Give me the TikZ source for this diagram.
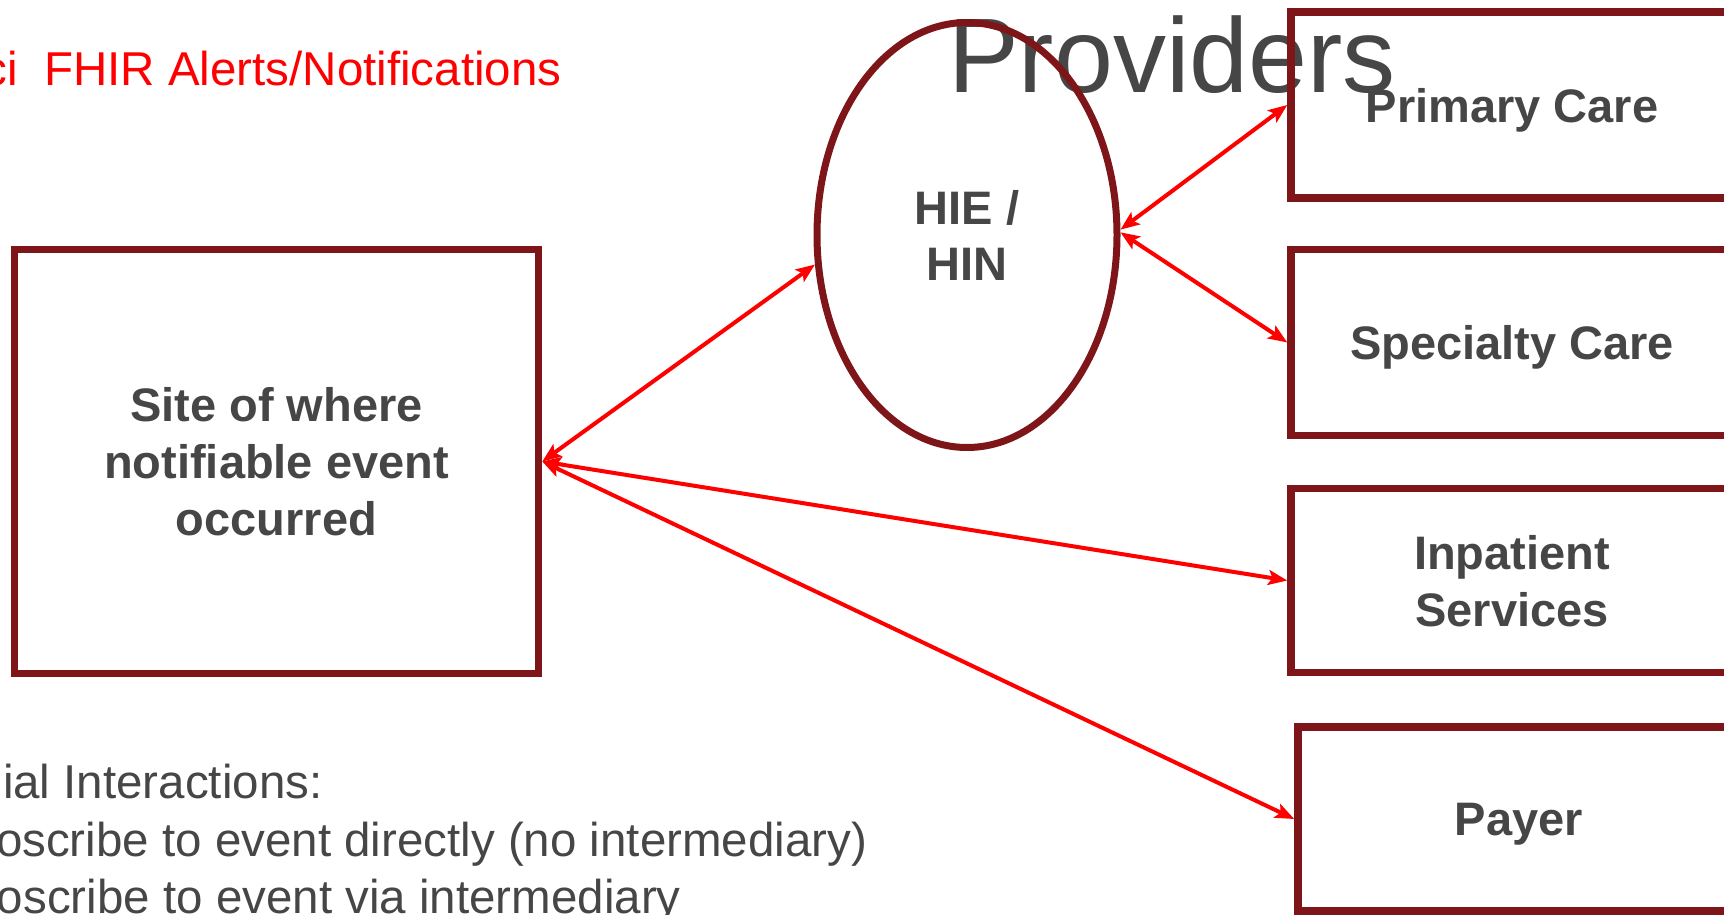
\documentclass[tikz,border=0pt]{standalone}
\usepackage{fontspec}
\setmainfont{Liberation Sans}
\usetikzlibrary{arrows.meta,shapes.geometric}
\definecolor{boxred}{HTML}{7E1518}
\definecolor{labelgray}{HTML}{464646}
\definecolor{linkred}{HTML}{FF0000}

\begin{document}
\begin{tikzpicture}[x=1pt,y=-1pt,
  every node/.style={inner sep=0pt, outer sep=0pt},
  bodytext/.style={font=\fontsize{47.5}{57}\selectfont, text=labelgray},
  unit/.style={draw=boxred, line width=7.5pt, rectangle, outer sep=3.75pt,
    font=\bfseries\fontsize{47}{57}\selectfont, text=labelgray, align=center},
  provider/.style={unit, text depth=0pt},
  hub/.style={draw=boxred, line width=7pt, ellipse, outer sep=3.5pt,
    minimum width=300pt, minimum height=425pt,
    font=\bfseries\fontsize{47}{56}\selectfont, text=labelgray, align=center},
  link/.style={draw=linkred, line width=4pt,
    {Stealth[length=19pt,width=15pt,inset=4pt]}-{Stealth[length=19pt,width=15pt,inset=4pt]}},
]
\useasboundingbox (0,0) rectangle (1724,915);

% headings and notes
\node[bodytext, text=linkred, anchor=base west] (title) at (-16.5,86) {ci\ \ FHIR Alerts/Notifications};
\node[font=\fontsize{106}{120}\selectfont, text=labelgray, anchor=base] (providers) at (1172,93) {Providers};
\node[bodytext, anchor=base west] (note1) at (3,798) {ial Interactions:};
\node[bodytext, anchor=base west] (note2) at (-4,856) {oscribe to event directly (no intermediary)};
\node[bodytext, anchor=base west] (note3) at (-3,913) {oscribe to event via intermediary};

% participants
\node[unit, minimum width=524pt, minimum height=424pt] (site) at (276.5,461.5)
  {Site of where\\notifiable event\\occurred};
\node[hub] (hie) at (967,235) {HIE /\\HIN};
\node[provider, minimum width=442pt, minimum height=186pt] (primary) at (1512,105) {Primary Care};
\node[provider, minimum width=442pt, minimum height=186pt] (specialty) at (1512,342.5) {Specialty Care};
\node[provider, minimum width=442pt, minimum height=184pt] (inpatient) at (1512,580.5) {Inpatient\\Services};
\node[provider, minimum width=442pt, minimum height=184pt] (payer) at (1519,819) {Payer};

% exchanges
\draw[link] (site.east) -- (hie.191);
\draw[link] (hie.2) -- (primary.west);
\draw[link] (hie.1) -- (specialty.west);
\draw[link] (site.east) -- (inpatient.west);
\draw[link] (site.east) -- (payer.west);
\end{tikzpicture}
\end{document}
